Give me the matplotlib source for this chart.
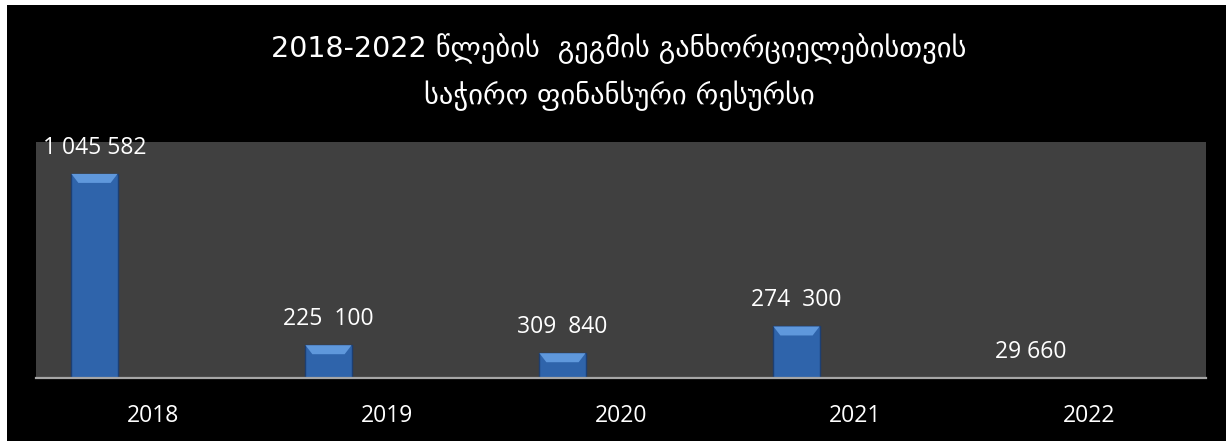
import matplotlib
matplotlib.use('Agg')
import matplotlib.pyplot as plt
from matplotlib.patches import Rectangle, Polygon

years = ['2018', '2019', '2020', '2021', '2022']
# bar heights as drawn in the picture (they do not follow the typed labels)
values = [1045582, 168000, 127000, 264000, 1500]
value_labels = ['1 045 582', '225  100', '309  840', '274  300', '29 660']
title_1 = '2018-2022 წლების  გეგმის განხორციელებისთვის'
title_2 = 'საჭირო ფინანსური რესურსი'

fig = plt.figure(figsize=(12.26, 4.42), dpi=100, facecolor='white')
fig.patches.append(Rectangle((7 / 1226, 1 / 442), 1, 1 - 6 / 442,
                             transform=fig.transFigure, facecolor='black',
                             edgecolor='none', zorder=-10))

ax = fig.add_axes([36 / 1226, 64 / 442, 1170 / 1226, 236 / 442])
ax.set_facecolor('#404040')

ymax = 1209000
x = [i - 0.25 for i in range(len(years))]
bars = ax.bar(x, values, width=0.197, color='#2f64ab', edgecolor='#1d3f72',
              linewidth=1.0, zorder=3)

# bevel on top of each bar
px = ymax / 236.0
for b in bars:
    x0, w, h = b.get_x(), b.get_width(), b.get_height()
    bev = min(9 * px, h)
    dx = w * 0.15
    ax.add_patch(Polygon([(x0, h), (x0 + w, h), (x0 + w - dx, h - bev),
                          (x0 + dx, h - bev)], closed=True,
                         facecolor='#5f98dc', edgecolor='none', zorder=4))

for b, lab in zip(bars, value_labels):
    ax.annotate(lab, (b.get_x() + b.get_width() / 2, b.get_height()),
                xytext=(0, 26), textcoords='offset pixels', ha='center',
                va='center', color='white', fontsize=16.5, family='Open Sans',
                zorder=5)

ax.set_xlim(-0.5, len(years) - 0.5)
ax.set_ylim(0, ymax)
ax.set_yticks([])
ax.set_xticks(range(len(years)))
ax.set_xticklabels(years, color='white', fontsize=16.5, family='Open Sans')
ax.tick_params(axis='x', length=0, pad=19)
for s in ['top', 'right', 'left']:
    ax.spines[s].set_visible(False)
ax.spines['bottom'].set_color('#a6a6a6')
ax.spines['bottom'].set_linewidth(1.6)
ax.spines['bottom'].set_zorder(6)

fig.text(0.505, 1 - 49 / 442, title_1, ha='center', va='center', color='white',
         fontsize=20.5, family='DejaVu Sans')
fig.text(0.505, 1 - 96 / 442, title_2, ha='center', va='center', color='white',
         fontsize=20.5, family='DejaVu Sans')

fig.savefig('out.png', dpi=100, facecolor=fig.get_facecolor())
